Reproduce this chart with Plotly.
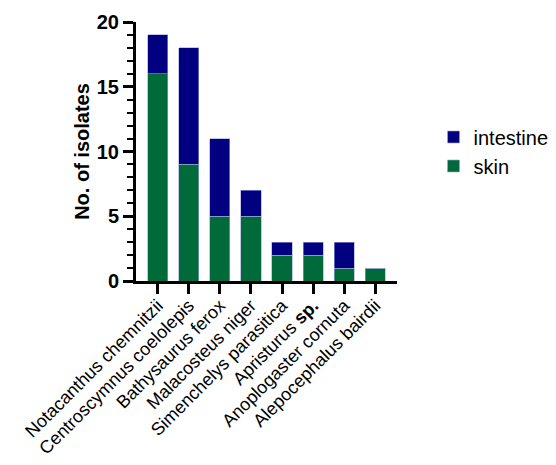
import plotly.graph_objects as go

categories = ["Notacanthus chemnitzii", "Centroscymnus coelolepis", "Bathysaurus ferox",
              "Malacosteus niger", "Simenchelys parasitica", "Apristurus <b>sp.</b>",
              "Anoplogaster cornuta", "Alepocephalus bairdii"]
skin = [16, 9, 5, 5, 2, 2, 1, 1]
intestine = [3, 9, 6, 2, 1, 1, 2, 0]

FONT = "Liberation Sans, Arial, sans-serif"

fig = go.Figure()
fig.add_trace(go.Bar(x=categories, y=skin, name="skin", legendgroup="skin",
                     marker=dict(color="#006a3b", line=dict(color="#9aa6d8", width=0.6))))
fig.add_trace(go.Bar(x=categories, y=intestine, name="intestine", legendgroup="intestine",
                     marker=dict(color="#000080", line=dict(color="#9aa6d8", width=0.6))))

fig.update_layout(
    width=540, height=449,
    barmode="stack", bargap=0.35,
    plot_bgcolor="white", paper_bgcolor="white",
    margin=dict(l=128, r=151, t=14, b=176, autoexpand=False),
    font=dict(family=FONT, color="black"),
    legend=dict(x=1.14, y=0.5, xanchor="left", yanchor="middle",
                traceorder="reversed", font=dict(size=20, family=FONT),
                itemwidth=30, tracegroupgap=15),
    showlegend=True,
)
fig.update_xaxes(
    type="category", range=[-0.7, 7.7], automargin=False,
    showline=True, linecolor="black", linewidth=3,
    ticks="outside", ticklen=10, tickwidth=2.5, tickcolor="black",
    tickangle=-45, tickfont=dict(size=18, family=FONT),
    ticklabelstandoff=-6,
    showgrid=False, zeroline=False,
)
fig.update_yaxes(
    range=[0, 20], dtick=5, tick0=0, automargin=False,
    showline=True, linecolor="black", linewidth=3,
    ticks="outside", ticklen=10, tickwidth=2.5, tickcolor="black",
    tickfont=dict(size=20, family=FONT, weight="bold"),
    minor=dict(dtick=1, ticks="outside", ticklen=6, tickwidth=2, tickcolor="black", showgrid=False),
    showgrid=False, zeroline=False,
    title=dict(text="No. of isolates", font=dict(size=20, family=FONT, weight="bold"), standoff=2),
)

fig.write_html("out.html")
